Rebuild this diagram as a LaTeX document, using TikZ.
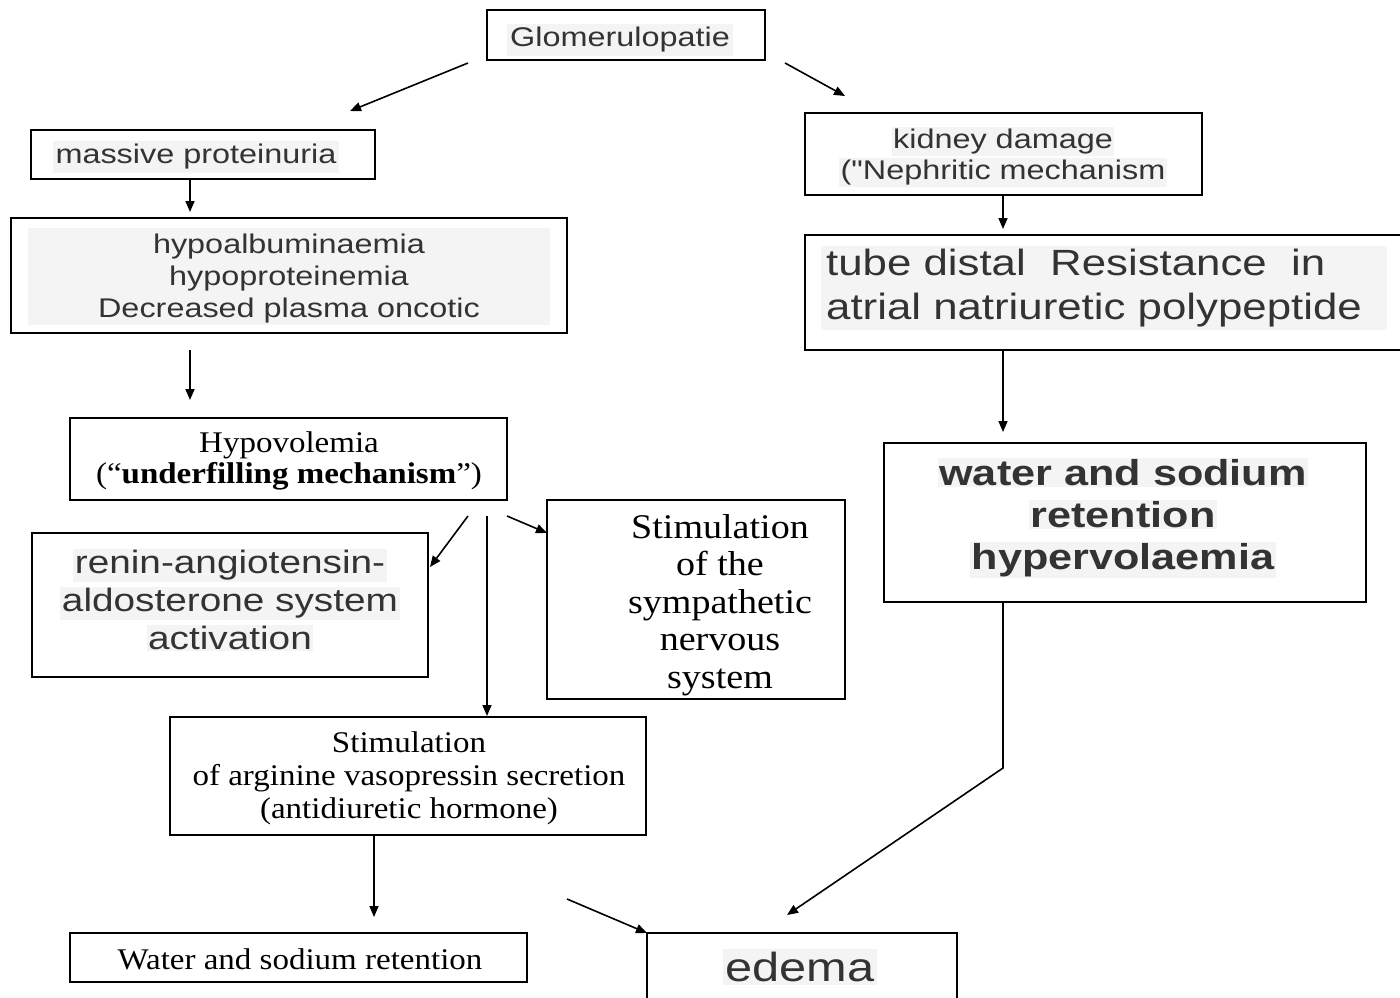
\documentclass[tikz,border=0pt]{standalone}
\usepackage{fontspec}
\setmainfont{Liberation Serif}[FakeStretch=1.1]
\newfontfamily\arw{Liberation Sans}[FakeStretch=1.2]
\usetikzlibrary{arrows.meta}
\definecolor{hl}{HTML}{F4F4F4}
\definecolor{txt}{HTML}{333333}
\newcommand\hl[1]{{\setlength{\fboxsep}{1.5pt}\colorbox{hl}{#1}}}
\newcommand\fs[2]{\fontsize{#1}{#2}\selectfont}
\tikzset{
  box/.style={draw, line width=1.8pt, rectangle, inner sep=0pt},
  arr/.style={line width=1.6pt, -{Triangle[length=11pt,width=9pt]}},
  lbl/.style={align=center, inner sep=0pt, text=txt},
  slbl/.style={align=center, inner sep=0pt, text=black},
}
\begin{document}
\begin{tikzpicture}[x=1pt,y=-1pt]
\useasboundingbox (0,0) rectangle (1400,997);
% boxes
\node[box, minimum width=278, minimum height=50] (glom) at (626,35) {};
\node[box, minimum width=344, minimum height=49] (mass) at (203,154.5) {};
\node[box, minimum width=556, minimum height=115] (hypo) at (289,275.5) {};
\node[box, minimum width=437, minimum height=82] (hvol) at (288.5,459) {};
\node[box, minimum width=396, minimum height=144] (renin) at (230,605) {};
\node[box, minimum width=298, minimum height=199] (symp) at (696,599.5) {};
\node[box, minimum width=476, minimum height=118] (argi) at (408,776) {};
\node[box, minimum width=457, minimum height=49] (wsr) at (298.5,957.5) {};
\node[box, minimum width=310, minimum height=80] (edema) at (802,973) {};
\node[box, minimum width=397, minimum height=82] (kid) at (1003.5,154) {};
\node[box, minimum width=597, minimum height=115] (tube) at (1103.5,292.5) {};
\node[box, minimum width=482, minimum height=159] (hyper) at (1125,522.5) {};
% texts
\node[lbl, font=\arw\fs{27}{32}] (glomt) at (620,40) {{\setlength{\fboxsep}{3pt}\colorbox{hl}{Glomerulopatie}}};
\node[lbl, font=\arw\fs{27}{32}] (masst) at (196,157) {{\setlength{\fboxsep}{3pt}\colorbox{hl}{massive proteinuria}}};
\node[fill=hl, inner sep=0pt, minimum width=522, minimum height=97] (hypobg) at (289,276.5) {};
\node[lbl, font=\arw\fs{27}{32}] (hypot) at (289,279) {hypoalbuminaemia\\hypoproteinemia\\Decreased plasma oncotic};
\node[slbl, font=\fs{30}{31}] (hvolt) at (289,461) {Hypovolemia\\(“\textbf{underfilling mechanism}”)};
\node[lbl, font=\arw\fs{32.3}{38}] (renint) at (230,600) {\hl{renin-angiotensin-}\\\hl{aldosterone system}\\\hl{activation}};
\node[slbl, font=\fs{34.6}{37.5}] (sympt) at (720,605) {Stimulation\\of the\\sympathetic\\nervous\\system};
\node[slbl, font=\fs{30}{33}] (argit) at (409,778) {Stimulation\\of arginine vasopressin secretion\\(antidiuretic hormone)};
\node[slbl, font=\fs{30}{32}] (wsrt) at (300,959) {Water and sodium retention};
\node[lbl, font=\arw\fs{40.6}{44}] (edemat) at (800,967) {{\setlength{\fboxsep}{3pt}\colorbox{hl}{edema}}};
\node[lbl, font=\arw\fs{27}{31}] (kidt) at (1003,157) {\hl{kidney damage}\\\hl{("Nephritic mechanism}};
\node[lbl, font=\arw\fs{36.5}{44}, fill=hl, align=left, text width=556, inner xsep=5pt, inner ysep=3pt, anchor=west] (tubet) at (821,288) {tube distal\ \ Resistance\ \ in\\atrial natriuretic polypeptide};
\node[lbl, font=\arw\bfseries\fs{36}{42}] (hypert) at (1123,518) {\hl{water and sodium}\\\hl{retention}\\\hl{hypervolaemia}};
% connector ends
\coordinate (g1) at (468,63);  \coordinate (m1) at (350,111);
\coordinate (g2) at (785,63);  \coordinate (k1) at (845,96);
\coordinate (m2) at (190,180); \coordinate (h1) at (190,212);
\coordinate (h2) at (190,350); \coordinate (v1) at (190,400);
\coordinate (k2) at (1003,196);\coordinate (t1) at (1003,229);
\coordinate (t2) at (1003,350);\coordinate (y1) at (1003,432);
\coordinate (v2) at (468,516); \coordinate (r1) at (430,567);
\coordinate (v3) at (487,516); \coordinate (a1) at (487,716);
\coordinate (v4) at (507,516); \coordinate (s1) at (547,533);
\coordinate (a2) at (374,836); \coordinate (w1) at (374,917);
\coordinate (e0) at (567,899); \coordinate (e1) at (647,933);
\coordinate (y2) at (1003,602);\coordinate (yb) at (1003,768);
\coordinate (e2) at (787,915);
% connectors
\draw[arr] (g1) -- (m1);
\draw[arr] (g2) -- (k1);
\draw[arr] (m2) -- (h1);
\draw[arr] (h2) -- (v1);
\draw[arr] (k2) -- (t1);
\draw[arr] (t2) -- (y1);
\draw[arr] (v2) -- (r1);
\draw[arr] (v3) -- (a1);
\draw[arr] (v4) -- (s1);
\draw[arr] (a2) -- (w1);
\draw[arr] (e0) -- (e1);
\draw[arr] (y2) -- (yb) -- (e2);
\end{tikzpicture}
\end{document}
